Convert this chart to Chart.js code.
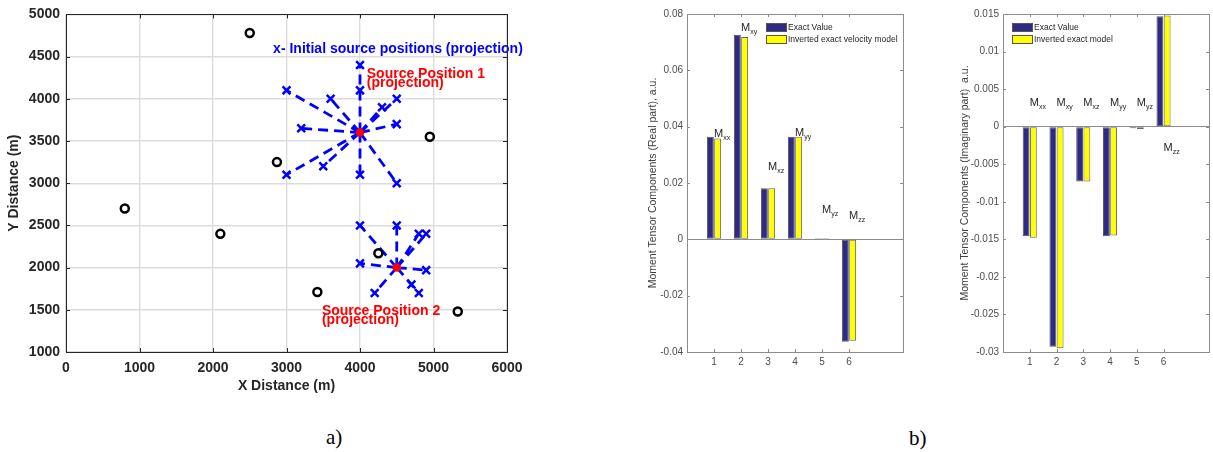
<!DOCTYPE html>
<html>
<head>
<meta charset="utf-8">
<script src="https://cdn.jsdelivr.net/npm/chart.js@4"></script>
<style>
body { margin: 0; background: #fff; width: 1213px; height: 452px; overflow: hidden; position: relative; }
canvas { position: absolute; top: 0; }
.cap { position: absolute; font-family: "Liberation Serif", "Times New Roman", serif; font-size: 21px; color: #000; }
</style>
</head>
<body>
<canvas id="mapChart" width="540" height="400" style="left:0px"></canvas>
<canvas id="realChart" width="320" height="400" style="left:600px"></canvas>
<canvas id="imagChart" width="303" height="400" style="left:910px"></canvas>
<div class="cap" style="left:326px;top:425px">a)</div>
<div class="cap" style="left:909px;top:426px">b)</div>
<script>
// a) receiver stations (black circles)
var stationX = [2500, 800, 2100, 2870, 4950, 3420, 4250, 5330];
var stationY = [4780, 2700, 2400, 3250, 3550, 1710, 2170, 1480];
// true source positions (red)
var sourceX = [4000, 4500];
var sourceY = [3600, 2000];
// initial source positions and which source each one converges to
var initX = [3000, 4000, 4000, 3600, 4500, 4300, 4500, 3200, 3000, 3500, 4000, 4500,
             4000, 4500, 4800, 4900, 4000, 4900, 4200, 4700, 4800];
var initY = [4100, 4400, 4100, 4000, 4000, 3900, 3700, 3650, 3100, 3200, 3100, 3000,
             2500, 2500, 2400, 2400, 2050, 1970, 1700, 1800, 1700];
var initSrc = [0, 0, 0, 0, 0, 0, 0, 0, 0, 0, 0, 0, 1, 1, 1, 1, 1, 1, 1, 1, 1];

// b) moment tensor components
var components = [1, 2, 3, 4, 5, 6];
var compNames = ['xx', 'xy', 'xz', 'yy', 'yz', 'zz'];
var realExact = [0.0364, 0.0726, 0.0181, 0.0364, 0.0004, -0.0364];
var realInverted = [0.0358, 0.0718, 0.0181, 0.0364, 0.0004, -0.0360];
var realLabelY = [0.0373, 0.0750, 0.0257, 0.0376, 0.0104, 0.0083];
var imagExact = [-0.0146, -0.0293, -0.0073, -0.0146, -0.0002, 0.0147];
var imagInverted = [-0.0148, -0.0295, -0.0073, -0.0145, -0.0003, 0.0148];
var imagLabelY = [0.0032, 0.0032, 0.0032, 0.0032, 0.0032, -0.0028];

var sans = '"Liberation Sans", Arial, sans-serif';

// map annotations
var mapNotes = [
  { text: 'x- Initial source positions (projection)', x: 2818, y: 4593, color: '#0000ff' },
  { text: 'Source Position 1', x: 4092, y: 4296, color: '#ff0000' },
  { text: '(projection)', x: 4092, y: 4191, color: '#ff0000' },
  { text: 'Source Position 2', x: 3482, y: 1484, color: '#ff0000' },
  { text: '(projection)', x: 3482, y: 1375, color: '#ff0000' }
];

// box round the axes, with inward ticks like matlab
var boxPlugin = {
  id: 'box',
  afterDatasetsDraw: function (chart, args, opts) {
    var a = chart.chartArea, ctx = chart.ctx;
    var xs = chart.scales.x, ys = chart.scales.y;
    ctx.save();
    ctx.strokeStyle = opts.color;
    ctx.lineWidth = 1;
    ctx.beginPath();
    xs.ticks.forEach(function (t) {
      if (t.label === '') return;
      var px = Math.round(xs.getPixelForValue(t.value)) + 0.5;
      ctx.moveTo(px, a.bottom); ctx.lineTo(px, a.bottom - opts.tick);
      ctx.moveTo(px, a.top); ctx.lineTo(px, a.top + opts.tick);
    });
    ys.ticks.forEach(function (t) {
      var py = Math.round(ys.getPixelForValue(t.value)) + 0.5;
      ctx.moveTo(a.left, py); ctx.lineTo(a.left + opts.tick, py);
      ctx.moveTo(a.right, py); ctx.lineTo(a.right - opts.tick, py);
    });
    ctx.stroke();
    ctx.lineWidth = opts.width;
    ctx.strokeRect(Math.round(a.left) + 0.5, Math.round(a.top) + 0.5,
                   Math.round(a.right - a.left), Math.round(a.bottom - a.top));
    ctx.restore();
  }
};

var notesPlugin = {
  id: 'notes',
  afterDatasetsDraw: function (chart) {
    var ctx = chart.ctx, xs = chart.scales.x, ys = chart.scales.y;
    ctx.save();
    ctx.font = 'bold 14px ' + sans;
    ctx.textAlign = 'left';
    ctx.textBaseline = 'middle';
    mapNotes.forEach(function (n) {
      ctx.fillStyle = n.color;
      ctx.fillText(n.text, xs.getPixelForValue(n.x), ys.getPixelForValue(n.y));
    });
    ctx.restore();
  }
};

var compLabelPlugin = {
  id: 'compLabels',
  afterDatasetsDraw: function (chart, args, opts) {
    var ctx = chart.ctx, xs = chart.scales.x, ys = chart.scales.y;
    ctx.save();
    ctx.fillStyle = '#262626';
    ctx.textAlign = 'left';
    ctx.textBaseline = 'middle';
    components.forEach(function (c, i) {
      var px = xs.getPixelForValue(c), py = ys.getPixelForValue(opts.ys[i]);
      ctx.font = '11px ' + sans;
      ctx.fillText('M', px, py);
      var w = ctx.measureText('M').width;
      ctx.font = '7px ' + sans;
      ctx.fillText(compNames[i], px + w, py + 4);
    });
    ctx.restore();
  }
};

var legendPlugin = {
  id: 'boxLegend',
  afterDatasetsDraw: function (chart, args, opts) {
    var ctx = chart.ctx, a = chart.chartArea;
    ctx.save();
    chart.data.datasets.forEach(function (ds, i) {
      var x = Math.round(a.left + opts.dx), y = Math.round(a.top + opts.dy + i * 12);
      ctx.fillStyle = ds.backgroundColor;
      ctx.fillRect(x, y, 20, 8);
      ctx.strokeStyle = '#555';
      ctx.lineWidth = 1;
      ctx.strokeRect(x + 0.5, y + 0.5, 20, 8);
      ctx.fillStyle = '#262626';
      ctx.font = '8.5px ' + sans;
      ctx.textBaseline = 'middle';
      ctx.fillText(ds.label, x + 22, y + 4.5);
    });
    ctx.restore();
  }
};

// dashed convergence paths, drawn out from the source so the dashes line up,
// broken with null points
var pathData = [];
initX.forEach(function (x, i) {
  var s = initSrc[i];
  pathData.push({ x: sourceX[s], y: sourceY[s] }, { x: x, y: initY[i] }, { x: null, y: null });
});

function xy(xs, ys) {
  return xs.map(function (x, i) { return { x: x, y: ys[i] }; });
}

new Chart(document.getElementById('mapChart'), {
  type: 'scatter',
  data: {
    datasets: [
      { data: xy(sourceX, sourceY), pointStyle: 'circle', pointRadius: 3.5,
        backgroundColor: '#ff0000', borderColor: '#ff0000', borderWidth: 1.5 },
      { data: xy(initX, initY), pointStyle: 'crossRot', pointRadius: 5.5,
        borderColor: '#0000ff', borderWidth: 2.5 },
      { data: xy(stationX, stationY), pointStyle: 'circle', pointRadius: 4,
        backgroundColor: 'rgba(0,0,0,0)', borderColor: '#000', borderWidth: 2.5 },
      { data: pathData, showLine: true, pointRadius: 0, borderColor: '#0000ff',
        borderWidth: 2.8, borderDash: [10, 6] }
    ]
  },
  options: {
    responsive: false,
    animation: false,
    events: [],
    layout: { padding: { top: 11, right: 33, left: 0, bottom: 0 } },
    plugins: {
      legend: { display: false },
      tooltip: { enabled: false },
      box: { color: '#262626', width: 1, tick: 4 }
    },
    scales: {
      x: {
        type: 'linear', min: 0, max: 6000,
        ticks: { stepSize: 1000, color: '#262626', font: { family: sans, size: 14, weight: 'bold' },
                 padding: 8, callback: function (v) { return String(v); } },
        grid: { color: '#dcdcdc', lineWidth: 1.4, drawTicks: false },
        border: { display: false },
        title: { display: true, text: 'X Distance (m)', color: '#262626',
                 font: { family: sans, size: 14, weight: 'bold' }, padding: { top: 0, bottom: 5 } },
        afterFit: function (s) { s.height = 48; }
      },
      y: {
        type: 'linear', min: 1000, max: 5000,
        ticks: { stepSize: 500, color: '#262626', font: { family: sans, size: 14, weight: 'bold' },
                 padding: 6, callback: function (v) { return String(v); } },
        grid: { color: '#dcdcdc', lineWidth: 1.4, drawTicks: false },
        border: { display: false },
        title: { display: true, text: 'Y Distance (m)', color: '#262626',
                 font: { family: sans, size: 14, weight: 'bold' }, padding: { top: 6, bottom: 0 } },
        afterFit: function (s) { s.width = 66; }
      }
    }
  },
  plugins: [notesPlugin, boxPlugin]
});

function barChart(id, exact, inverted, labelY, names, yMin, yMax, step, xMax, yTitle, titlePad, axisW, padRight, legendDx) {
  return new Chart(document.getElementById(id), {
    type: 'bar',
    data: {
      datasets: [
        { label: names[0], data: xy(components, exact), backgroundColor: '#2f2b85',
          borderColor: '#555', borderWidth: 1, borderSkipped: false,
          categoryPercentage: 0.54, barPercentage: 0.95 },
        { label: names[1], data: xy(components, inverted), backgroundColor: '#ffff00',
          borderColor: '#666', borderWidth: 1, borderSkipped: false,
          categoryPercentage: 0.54, barPercentage: 0.95 }
      ]
    },
    options: {
      responsive: false,
      animation: false,
      events: [],
      layout: { padding: { top: 14, right: padRight, left: 0, bottom: 0 } },
      plugins: {
        legend: { display: false },
        tooltip: { enabled: false },
        box: { color: '#8c8c8c', width: 1, tick: 3 },
        compLabels: { ys: labelY },
        boxLegend: { dx: legendDx, dy: 9 }
      },
      scales: {
        x: {
          type: 'linear', min: 0, max: xMax, offset: false,
          ticks: { stepSize: 1, color: '#4d4d4d', font: { family: sans, size: 10 }, padding: 4,
                   autoSkip: false,
                   callback: function (v) { return components.indexOf(v) >= 0 ? String(v) : ''; } },
          grid: { display: false, offset: false, drawTicks: false },
          border: { display: false },
          afterFit: function (s) { s.height = 48; }
        },
        y: {
          min: yMin, max: yMax,
          ticks: { stepSize: step, color: '#4d4d4d', font: { family: sans, size: 10 }, padding: 4,
                   callback: function (v) { return String(Number(v.toFixed(5))); } },
          grid: {
            drawTicks: false,
            color: function (c) { return Math.abs(c.tick.value) < 1e-9 ? '#8c8c8c' : 'rgba(0,0,0,0)'; }
          },
          border: { display: false },
          title: { display: true, text: yTitle, color: '#404040',
                   font: { family: sans, size: 10.5 }, padding: { top: titlePad, bottom: 0 } },
          afterFit: function (s) { s.width = axisW; }
        }
      }
    },
    plugins: [compLabelPlugin, legendPlugin, boxPlugin]
  });
}

barChart('realChart', realExact, realInverted, realLabelY,
         ['Exact Value', 'Inverted exact velocity model'],
         -0.04, 0.08, 0.02, 8, 'Moment Tensor Components (Real part), a.u.', 47, 87, 17, 79);
barChart('imagChart', imagExact, imagInverted, imagLabelY,
         ['Exact Value', 'Inverted exact model'],
         -0.03, 0.015, 0.005, 7.7, 'Moment Tensor Components (Imaginary part)  a.u.', 49, 93, 1, 9);
</script>
</body>
</html>
